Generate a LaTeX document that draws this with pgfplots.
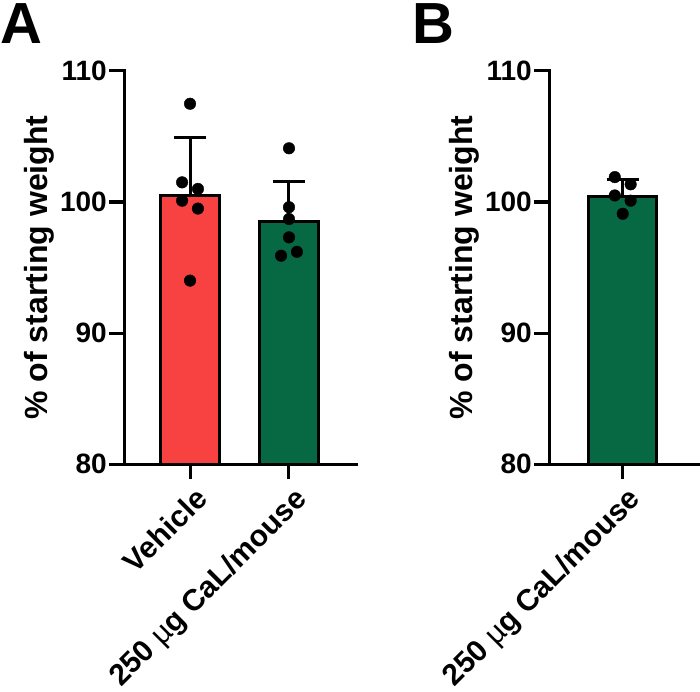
\documentclass[border=0pt]{standalone}
\usepackage{fontspec}
\setmainfont{Liberation Sans}
\usepackage{pgfplots}
\pgfplotsset{compat=1.18}
\definecolor{vehred}{RGB}{248,66,66}
\definecolor{calgreen}{RGB}{6,105,68}
\newcommand{\mug}{{\mdseries µ}g}
\pgfplotsset{
  panel/.style={
    scale only axis,
    anchor=south west,
    axis lines=left,
    axis line style={-, line width=3pt, line cap=rect},
    ymin=80, ymax=110,
    ytick={80,90,100,110},
    tick align=outside,
    major tick length=15pt,
    every tick/.style={black, line width=3pt},
    yticklabel style={font=\fontsize{28}{32}\selectfont\bfseries, inner sep=2pt},
    /pgf/number format/assume math mode=true,
    ylabel={\% of starting weight},
    ylabel style={font=\fontsize{32}{36}\selectfont\bfseries},
    xtick=data,
    xticklabel style={rotate=45, anchor=north east, inner sep=2pt, yshift=-5pt,
      font=\fontsize{30}{34}\selectfont\bfseries},
  },
}
\begin{document}
\begin{tikzpicture}
\useasboundingbox (0,0) rectangle (700pt,691pt);
\node[anchor=base west, font=\fontsize{58}{60}\selectfont\bfseries, inner sep=0pt] at (0pt,647pt) {A};
\node[anchor=base west, font=\fontsize{58}{60}\selectfont\bfseries, inner sep=0pt] at (412pt,647pt) {B};
% Panel A
\begin{axis}[panel,
  at={(124pt,227pt)}, width=232pt, height=393pt,
  xmin=-0.667, xmax=1.677,
  xtick={0,1},
  xticklabels={Vehicle, 250 \mug\ CaL/mouse},
]
\addplot[ybar, bar width=59pt, bar shift=0pt, fill=vehred, draw=black, line width=3pt] coordinates {(0,100.5)};
\addplot[ybar, bar width=59pt, bar shift=0pt, fill=calgreen, draw=black, line width=3pt] coordinates {(1,98.5)};
\addplot[draw=none, mark=none, forget plot,
  error bars/.cd, y dir=plus, y explicit,
  error bar style={draw=black, solid, line width=3pt},
  error mark options={draw=black, rotate=90, mark size=16pt, line width=3pt}]
  coordinates {(0,100.5) +- (0,4.4) (1,98.5) +- (0,3.1)};
\addplot[only marks, mark=*, mark size=5.8pt, mark options={fill=black, draw=none}] coordinates {
  (0,107.5) (-0.08,101.5) (0.08,101.0) (-0.08,100.1) (0.08,99.5) (0,94.0)
  (1,104.1) (1,99.6) (1,98.7) (1,97.3) (1.08,96.2) (0.92,95.9)
};
\end{axis}
% Panel B
\begin{axis}[panel,
  at={(549pt,227pt)}, width=149pt, height=393pt,
  xmin=-0.744, xmax=0.76,
  xtick={0},
  xticklabels={250 \mug\ CaL/mouse},
]
\addplot[ybar, bar width=68pt, bar shift=0pt, fill=calgreen, draw=black, line width=3pt] coordinates {(0,100.4)};
\addplot[draw=none, mark=none, forget plot,
  error bars/.cd, y dir=plus, y explicit,
  error bar style={draw=black, solid, line width=3pt},
  error mark options={draw=black, rotate=90, mark size=16pt, line width=3pt}]
  coordinates {(0,100.4) +- (0,1.3)};
\addplot[only marks, mark=*, mark size=5.8pt, mark options={fill=black, draw=none}] coordinates {
  (-0.08,101.9) (0.08,101.35) (-0.08,100.5) (0.08,100.1) (0,99.1)
};
\end{axis}
\end{tikzpicture}
\end{document}
